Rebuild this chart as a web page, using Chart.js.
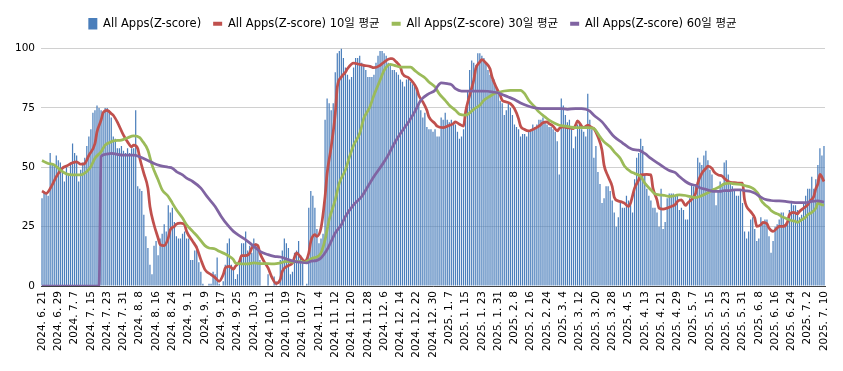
<!DOCTYPE html>
<html>
<head>
<meta charset="utf-8">
<script src="https://cdn.jsdelivr.net/npm/chart.js@4.4.1/dist/chart.umd.min.js"></script>
<style>
  html, body { margin: 0; padding: 0; background: #fff; }
</style>
</head>
<body>
<canvas id="chart" width="843" height="371"></canvas>
<script>
// Daily Z-score values, 2024. 6. 21 ~ 2025. 7. 10
const zScore = [
  // 6.21 ~
  37, 40, 39, 38, 56, 51, 51, 55, 53, 52, 48, 44, 50, 47, 52, 60, 56, 55, 44, 49,
  52, 54, 59, 63, 66, 73, 74, 76, 75, 74, 73, 75, 75, 74, 71,
  // 7.26 ~
  63, 62, 58, 58, 59, 57, 56, 58, 56, 58, 58, 74, 42, 41, 40, 30, 21, 16, 9, 5,
  17, 19, 13, 20, 22, 26, 23, 34, 31, 33, 27, 21, 20, 20, 22, 23, 20, 20, 11, 11,
  // 9.4 ~
  15, 17, 10, 6, 1, 0, 0, 1, 1, 6, 5, 12, 1, 0, 2, 9, 18, 20, 9, 7,
  3, 5, 11, 18, 18, 23, 15, 17, 14, 20, 18, 16, 11, 0, 0, 0, 5, 0, 0,
  // 10.13 ~
  4, 2, 0, 11, 15, 20, 18, 16, 5, 6, 14, 15, 19, 13, 10, 0, 1, 33, 40, 38,
  33, 24, 18, 20, 22, 70, 79, 77, 74, 77, 90, 98, 99, 100, 96, 92, 89, 87, 88, 92,
  // 11.22 ~
  96, 96, 97, 94, 93, 91, 88, 88, 88, 89, 94, 97, 99, 99, 98, 97, 94, 93, 91, 91,
  90, 89, 87, 86, 84, 87, 88, 86, 85, 85, 82, 77, 74, 71, 73, 67, 66, 66, 65,
  // 12.31 ~
  66, 63, 63, 71, 70, 73, 70, 69, 70, 68, 68, 65, 62, 63, 66, 74, 82, 91, 95, 94,
  93, 98, 98, 97, 96, 94, 91, 89, 87, 87, 84, 81, 78, 77, 72, 74, 77, 75, 72,
  // 2.8 ~
  68, 67, 66, 63, 64, 64, 63, 65, 66, 68, 67, 68, 70, 70, 71, 69, 68, 67, 67, 66,
  65, 61, 47, 79, 76, 72, 69, 70, 66, 58, 63, 68, 68, 66, 65, 63, 81, 70, 66, 54,
  // 3.20 ~
  59, 48, 43, 35, 37, 42, 42, 40, 36, 31, 25, 29, 35, 33, 33, 38, 36, 35, 31, 45,
  54, 56, 62, 59, 47, 41, 38, 36, 33, 33, 31, 25, 41, 24, 27, 37, 39, 39, 39,
  // 4.28 ~
  38, 38, 32, 33, 32, 28, 28, 37, 43, 42, 43, 54, 52, 51, 55, 57, 53, 49, 47, 41,
  34, 40, 44, 42, 52, 53, 47, 43, 42, 40, 38, 38, 40, 35, 23, 20, 23, 28, 29,
  // 6.6 ~
  24, 19, 20, 29, 27, 28, 28, 21, 14, 19, 25, 26, 28, 31, 31, 26, 27, 32, 35, 34,
  34, 32, 29, 30, 35, 38, 41, 41, 46, 41, 45, 51, 58, 55, 59
];

// Moving averages as [day index, value]
const avg10 = [
  [0, 40], [2, 39], [5, 42.6], [7, 46], [10, 49.6], [12, 50.5], [15, 51.9], [17, 52.3],
  [19, 51.3], [21, 51.6], [23, 55], [26, 60], [27, 64.9], [29, 69.8], [30, 73], [32, 74],
  [34, 72.6], [35, 71.9], [37, 69], [40, 63.5], [42, 60.7], [44, 58.6], [45, 59.3], [47, 57.9],
  [48, 53.8], [50, 47.4], [52, 41.2], [53, 33.5], [55, 25.8], [57, 20.2], [58, 17.4], [60, 17],
  [62, 20.2], [63, 23.7], [65, 25.1], [66, 26.1], [68, 26.5], [70, 25.8], [71, 23], [74, 18.8],
  [76, 16], [78, 11.1], [80, 6.9], [83, 4.8], [85, 3.5], [87, 2], [89, 4.8], [90, 7.6],
  [92, 8.3], [94, 7.1], [95, 8.3], [97, 10.4], [98, 12.8], [100, 12.8], [102, 13.9], [103, 16],
  [105, 17.4], [106, 17], [107, 13.9], [109, 10.4], [111, 7.6], [113, 3.4], [115, 1], [117, 2.7],
  [118, 6.2], [121, 8.6], [123, 9.7], [125, 13.9], [126, 13.2], [128, 11.1], [129, 10.4], [131, 13.9],
  [132, 18.8], [134, 21.6], [135, 20.9], [137, 24.4], [139, 37.7], [140, 47.4], [142, 58.6], [144, 72.6],
  [145, 83.8], [147, 88], [149, 90], [150, 91.5], [153, 93.8], [156, 93.3], [158, 92.9], [161, 92.5],
  [163, 91.9], [166, 92.9], [168, 94.3], [171, 95.7], [172, 95.7], [174, 94.3], [176, 92.2], [177, 89.4],
  [180, 87.7], [182, 85.9], [184, 83.1], [185, 80.3], [187, 77.5], [189, 74], [190, 71.2], [193, 68.4],
  [194, 67.3], [197, 66.7], [199, 67.3], [202, 68.4], [203, 69.1], [205, 68.1], [207, 67.3], [208, 73.3],
  [210, 80.3], [212, 86.6], [213, 91.5], [215, 94.3], [216, 95.3], [218, 93.9], [220, 91.5], [221, 88],
  [223, 83.8], [225, 80.3], [226, 78.2], [228, 77.5], [230, 76.8], [232, 74.7], [234, 70.5], [235, 67.3],
  [237, 65.9], [239, 65.3], [241, 65.9], [244, 67.3], [246, 68.7], [248, 69.1], [249, 68.4], [251, 67.3],
  [253, 65.3], [254, 66.3], [256, 67], [258, 66.7], [261, 66.3], [262, 67.7], [263, 69.5], [265, 67.3],
  [266, 66.7], [268, 67.7], [270, 66.7], [271, 66.3], [273, 62.8], [275, 57.2], [276, 50.9], [278, 46.1],
  [280, 41.9], [281, 37.4], [283, 35.8], [285, 35.3], [286, 34.9], [288, 33.5], [289, 34.9], [291, 41.2],
  [293, 44.7], [294, 46.8], [297, 47], [299, 46.8], [300, 41.2], [302, 36.3], [303, 32.8], [305, 32.4],
  [307, 32.8], [309, 33.5], [311, 34.3], [312, 35.6], [314, 36.3], [316, 33.9], [317, 34.9], [319, 36.5],
  [321, 39.1], [322, 43.3], [324, 47.4], [326, 49.5], [327, 50.5], [329, 49.5], [330, 48.1], [332, 46.8],
  [334, 46.3], [335, 45.4], [337, 44], [339, 43.5], [340, 43.5], [342, 43.3], [344, 43.3], [345, 36.3],
  [346, 33.5], [348, 31.3], [350, 28.6], [351, 25.1], [353, 25.8], [354, 26.8], [356, 26.2], [357, 24.4],
  [359, 23], [361, 24.4], [362, 25.1], [364, 25.1], [366, 26.8], [367, 30], [369, 31], [371, 30.4],
  [372, 31.4], [374, 32.8], [376, 34.2], [377, 35.6], [379, 37.7], [380, 41], [381, 43], [382, 47],
  [384, 44]
];

const avg30 = [
  [0, 52.8], [3, 51.6], [6, 51], [9, 48.8], [12, 47.2], [15, 46.8], [19, 46.8], [22, 48.2],
  [24, 50.3], [26, 53.8], [29, 56.5], [31, 59.3], [34, 60.7], [35, 61.1], [39, 61.4], [42, 62.4],
  [45, 63.2], [48, 62.5], [49, 61.4], [52, 57.2], [54, 51], [57, 44.7], [59, 40.5], [62, 37.7],
  [64, 34.9], [66, 32.1], [69, 28.6], [71, 25.8], [74, 23], [77, 20.2], [80, 17], [82, 16],
  [85, 15.6], [87, 14.6], [90, 13.5], [92, 12.5], [94, 11.1], [95, 9.7], [98, 9.3], [101, 9.3],
  [104, 9.7], [108, 9.4], [111, 9.4], [114, 9.3], [117, 9.7], [120, 10.4], [123, 10.1], [126, 10.4],
  [129, 10], [131, 10.8], [133, 11.8], [135, 12.2], [137, 13.9], [139, 19.5], [141, 27.9], [144, 36.3],
  [146, 43.3], [149, 48.9], [151, 54.4], [153, 59.3], [156, 64.2], [158, 70.5], [161, 75.4], [163, 80.3],
  [166, 86.6], [168, 90.8], [171, 93.3], [173, 92.9], [176, 92.2], [178, 92.2], [181, 92.2], [183, 90.8],
  [185, 89.4], [188, 87.7], [190, 85.9], [193, 83.8], [195, 81], [198, 78.2], [200, 76.1], [203, 74],
  [205, 72.3], [208, 71.9], [210, 72.9], [212, 74.4], [215, 76.1], [217, 78.2], [220, 79.9], [222, 81],
  [225, 81.7], [227, 82.1], [230, 82.4], [232, 82.4], [235, 82.4], [237, 81], [239, 78.2], [242, 75.4],
  [244, 73.3], [247, 71.2], [249, 69.8], [252, 68.4], [254, 67.7], [257, 67.3], [259, 67], [262, 66.7],
  [265, 66.7], [268, 66.7], [271, 66.3], [274, 62.8], [276, 60.7], [279, 58.6], [281, 56.5], [284, 53.7],
  [286, 50.5], [289, 48.2], [291, 47.4], [294, 46.1], [296, 43.3], [299, 40.5], [301, 38.8], [303, 38.4],
  [306, 38.1], [308, 37.7], [311, 38.1], [313, 38.4], [316, 38.1], [318, 37.7], [321, 37.2], [323, 37.7],
  [326, 38.8], [328, 39.8], [330, 40.7], [333, 41.9], [335, 43], [338, 43.3], [340, 43], [343, 42.8],
  [345, 42.3], [348, 41.6], [350, 40.5], [352, 38.4], [353, 36.3], [355, 34.2], [357, 32.8], [358, 31.8],
  [360, 30.7], [362, 30], [363, 29.3], [365, 28.6], [366, 28.2], [368, 27.6], [370, 27.2], [371, 26.8],
  [373, 27.9], [375, 29], [376, 30], [378, 31], [380, 32.8], [381, 34.9], [383, 34.2], [384, 34]
];

const avg60 = [
  [0, 0], [28, 0], [29, 54.5], [31, 55.4], [34, 55.8], [40, 55.1], [45, 55.1], [48, 54.4],
  [52, 52.8], [55, 51.6], [58, 50.7], [62, 50], [64, 49.6], [66, 48.2], [69, 46.8], [71, 45.4],
  [74, 44], [78, 41.2], [81, 37.7], [85, 33.5], [88, 29.3], [91, 25.8], [94, 23], [98, 20.6],
  [101, 18.8], [104, 16.7], [107, 14.6], [111, 13.2], [114, 12.5], [117, 12.2], [121, 11.1], [124, 10.4],
  [127, 10], [130, 9.7], [132, 10.4], [135, 10.8], [137, 11.8], [140, 15.3], [142, 18.8], [144, 22.3],
  [147, 25.8], [149, 29.3], [153, 34.2], [157, 37.7], [160, 41.9], [163, 46.1], [167, 51], [170, 55.1],
  [173, 60], [176, 64.2], [180, 69.1], [183, 73.3], [186, 78.2], [190, 81], [193, 82.4], [194, 83.8],
  [196, 85.5], [199, 85.2], [201, 84.8], [203, 83.1], [206, 82.1], [209, 82.1], [212, 82.1], [216, 82.1],
  [219, 82], [221, 81.7], [224, 81.3], [226, 80.6], [229, 79.6], [232, 78.5], [235, 77.1], [239, 75.7],
  [242, 75], [245, 74.7], [252, 74.7], [255, 74.7], [258, 74.4], [262, 74.7], [265, 74.7], [267, 74.4],
  [269, 73.6], [271, 71.9], [275, 69.1], [278, 65.9], [281, 62.8], [285, 60.3], [288, 58.4], [290, 57.5],
  [293, 57.2], [296, 55.8], [299, 53.7], [303, 51.4], [306, 49.6], [308, 48.6], [311, 47.7], [313, 46.1],
  [316, 44], [318, 43], [321, 42.3], [323, 41.4], [326, 40.7], [328, 40.2], [330, 39.8], [333, 39.8],
  [335, 40.2], [338, 40.2], [340, 40.5], [343, 40.5], [345, 40.2], [348, 39.8], [350, 39.1], [353, 37.4],
  [355, 36.5], [358, 36], [362, 35.8], [365, 35.6], [368, 35.3], [371, 35.1], [375, 35.1], [378, 35.6],
  [381, 35.8], [384, 35.3]
];

// Build date labels like "2024. 6. 21"
const startDate = Date.UTC(2024, 5, 21);
const labels = zScore.map((v, i) => {
  const d = new Date(startDate + i * 86400000);
  return `${d.getUTCFullYear()}. ${d.getUTCMonth() + 1}. ${d.getUTCDate()}`;
});

const toPoints = (pairs) => pairs.map(([day, value]) => ({ x: labels[day], y: value }));

const tickFont = { family: "'DejaVu Sans', sans-serif", size: 10.5 };

const lineSet = (label, pairs, color, order) => ({
  type: 'line',
  label: label,
  data: toPoints(pairs),
  borderColor: color,
  backgroundColor: color,
  borderWidth: 2.75,
  pointRadius: 0,
  cubicInterpolationMode: 'monotone',
  order: order
});

// Add some space under the legend
const legendGap = {
  id: 'legendGap',
  beforeInit(chart) {
    const fit = chart.legend.fit;
    chart.legend.fit = function () {
      fit.bind(chart.legend)();
      this.height += 9;
    };
  }
};

new Chart(document.getElementById('chart'), {
  data: {
    labels: labels,
    datasets: [
      {
        type: 'bar',
        label: 'All Apps(Z-score)',
        data: zScore,
        backgroundColor: '#4A7EBB',
        borderWidth: 0,
        barPercentage: 0.6,
        categoryPercentage: 1,
        order: 4
      },
      lineSet('All Apps(Z-score) 10일 평균', avg10, '#C0504D', 3),
      lineSet('All Apps(Z-score) 30일 평균', avg30, '#9BBB59', 2),
      lineSet('All Apps(Z-score) 60일 평균', avg60, '#8064A2', 1)
    ]
  },
  plugins: [legendGap],
  options: {
    responsive: false,
    animation: false,
    layout: { padding: { top: 6, right: 18, bottom: 0, left: 0 } },
    plugins: {
      tooltip: { enabled: false },
      legend: {
        position: 'top',
        labels: {
          color: '#000',
          font: { family: "'DejaVu Sans', 'Noto Sans CJK KR', sans-serif", size: 11.5 },
          usePointStyle: true,
          pointStyleWidth: 9,
          boxHeight: 12,
          padding: 12,
          sort: (a, b) => a.datasetIndex - b.datasetIndex,
          generateLabels: (chart) => {
            const items = Chart.defaults.plugins.legend.labels.generateLabels(chart);
            items.forEach((item) => {
              if (item.datasetIndex === 0) {
                item.pointStyle = 'rect';
                item.lineWidth = 0;
              } else {
                item.pointStyle = 'line';
                item.lineWidth = 4;
              }
            });
            return items;
          }
        }
      }
    },
    scales: {
      x: {
        grid: { display: false, drawTicks: false },
        border: { display: true, color: '#404040', width: 1 },
        afterFit: (scale) => { scale.height = 85; },
        ticks: {
          autoSkip: false,
          minRotation: 90,
          maxRotation: 90,
          padding: 5,
          color: '#000',
          font: tickFont,
          callback: function (value, index) {
            return index % 8 === 0 ? this.getLabelForValue(value) : '';
          }
        }
      },
      y: {
        min: 0,
        max: 100,
        grid: { color: '#D0D0D0', drawTicks: false },
        border: { display: false },
        afterFit: (scale) => { scale.width = 41; },
        ticks: {
          stepSize: 25,
          padding: 6,
          color: '#000',
          font: tickFont
        }
      }
    }
  }
});
</script>
</body>
</html>
